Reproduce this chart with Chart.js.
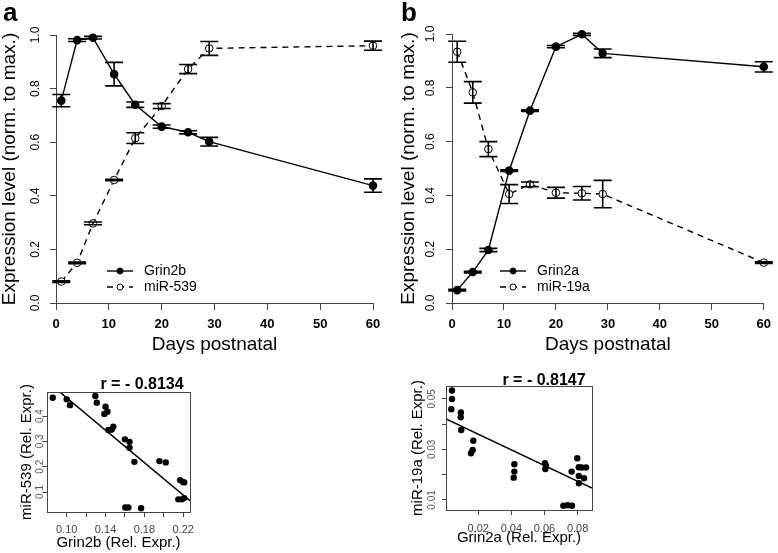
<!DOCTYPE html>
<html>
<head>
<meta charset="utf-8">
<script src="https://cdn.jsdelivr.net/npm/chart.js@4.4.0/dist/chart.umd.min.js"></script>
<style>
  body { margin: 0; background: #fff; }
  #wrap { position: relative; width: 778px; height: 553px; background: #fff; }
  #wrap canvas { position: absolute; left: 0; top: 0; }
</style>
</head>
<body>
<div id="wrap">
  <canvas id="lineA" width="778" height="553"></canvas>
  <canvas id="lineB" width="778" height="553"></canvas>
  <canvas id="corrA" width="778" height="553"></canvas>
  <canvas id="corrB" width="778" height="553"></canvas>
</div>
<script>
// sampling days (postnatal)
const days = [1, 4, 7, 11, 15, 20, 25, 29, 60];
const dayTicks = [0, 10, 20, 30, 40, 50, 60];
const levelTicks = [0, 0.2, 0.4, 0.6, 0.8, 1.0];
const levelLabels = ['0.0', '0.2', '0.4', '0.6', '0.8', '1.0'];

// panel a - Grin2b / miR-539, normalised to max
const grin2b = [0.755, 0.981, 0.990, 0.854, 0.740, 0.658, 0.637, 0.602, 0.438];
const grin2bErr = [0.023, 0.005, 0.005, 0.044, 0.010, 0.006, 0.006, 0.016, 0.025];
const mir539 = [0.080, 0.150, 0.297, 0.459, 0.615, 0.735, 0.873, 0.950, 0.960];
const mir539Err = [0.003, 0.003, 0.005, 0.003, 0.020, 0.009, 0.017, 0.026, 0.017];

// panel b - Grin2a / miR-19a
const grin2a = [0.048, 0.115, 0.197, 0.492, 0.715, 0.953, 0.999, 0.928, 0.878];
const grin2aErr = [0.003, 0.003, 0.006, 0.003, 0.003, 0.004, 0.004, 0.016, 0.019];
const mir19a = [0.934, 0.783, 0.572, 0.405, 0.441, 0.410, 0.408, 0.405, 0.150];
const mir19aErr = [0.039, 0.040, 0.028, 0.035, 0.009, 0.020, 0.025, 0.051, 0.003];

// correlation a (relative expression)
const grin2bRel = [0.0856, 0.1000, 0.1034, 0.1295, 0.1310, 0.1400, 0.1420, 0.1388, 0.1430, 0.1464, 0.1480, 0.1600, 0.1647,
  0.1647, 0.1697, 0.1955, 0.2020, 0.1604, 0.1635, 0.1766, 0.2150, 0.2186, 0.2210, 0.2168, 0.2196, 0.2210];
const mir539Rel = [0.472, 0.466, 0.443, 0.479, 0.453, 0.437, 0.417, 0.408, 0.345, 0.347, 0.358, 0.308, 0.298,
  0.275, 0.219, 0.222, 0.217, 0.039, 0.039, 0.036, 0.071, 0.071, 0.076, 0.147, 0.140, 0.138];
const fitA = [0.792, -3.2]; // intercept, slope
const corrAXTicks = [0.10, 0.12, 0.14, 0.16, 0.18, 0.20, 0.22];
const corrAXLabels = ['0.10', '', '0.14', '', '0.18', '', '0.22'];
const corrAYTicks = [0.1, 0.2, 0.3, 0.4];
const corrAYLabels = ['0.1', '0.2', '0.3', '0.4'];

// correlation b
const grin2aRel = [0.0041, 0.0041, 0.0037, 0.0095, 0.0094, 0.0097, 0.0170, 0.0166, 0.0156, 0.0418, 0.0418, 0.0414, 0.0603,
  0.0609, 0.0605, 0.0798, 0.0764, 0.0807, 0.0825, 0.0851, 0.0807, 0.0808, 0.0839, 0.0714, 0.0740, 0.0766];
const mir19aRel = [0.0533, 0.0500, 0.0459, 0.0446, 0.0427, 0.0377, 0.0334, 0.0298, 0.0285, 0.0241, 0.0212, 0.0188, 0.0245,
  0.0235, 0.0222, 0.0265, 0.0212, 0.0229, 0.0228, 0.0228, 0.0195, 0.0166, 0.0186, 0.0077, 0.0079, 0.0077];
const fitB = [0.0422, -0.31];
const corrBXTicks = [0.02, 0.04, 0.06, 0.08];
const corrBXLabels = ['0.02', '0.04', '0.06', '0.08'];
const corrBYTicks = [0.01, 0.02, 0.03, 0.04, 0.05];
const corrBYLabels = ['0.01', '', '0.03', '', '0.05'];

const FONT = '"Liberation Sans", Arial, sans-serif';
const AXIS = '#444';
Chart.defaults.font.family = FONT;
Chart.defaults.color = '#000';

// vertical error bars with caps, values kept on the dataset
const errorBars = {
  id: 'errorBars',
  afterDatasetsDraw(chart) {
    const { ctx, scales: { x, y } } = chart;
    ctx.save();
    ctx.strokeStyle = '#000';
    ctx.lineWidth = 1.6;
    chart.data.datasets.forEach(ds => {
      if (!ds.errorBars) return;
      ds.data.forEach((p, i) => {
        const px = x.getPixelForValue(p.x);
        const top = y.getPixelForValue(p.y + ds.errorBars[i]);
        const bot = y.getPixelForValue(p.y - ds.errorBars[i]);
        ctx.beginPath();
        ctx.moveTo(px, top); ctx.lineTo(px, bot);
        ctx.moveTo(px - 9, top); ctx.lineTo(px + 9, top);
        ctx.moveTo(px - 9, bot); ctx.lineTo(px + 9, bot);
        ctx.stroke();
      });
    });
    ctx.restore();
  }
};

// R style y tick labels (turned 90 degrees)
const sideTicks = {
  id: 'sideTicks',
  afterDraw(chart, args, opts) {
    const { ctx, scales: { y } } = chart;
    ctx.save();
    ctx.font = opts.size + 'px ' + FONT;
    ctx.fillStyle = opts.color;
    ctx.textAlign = 'center';
    ctx.textBaseline = 'middle';
    y.ticks.forEach(t => {
      if (!t.label) return;
      ctx.save();
      ctx.translate(opts.x, y.getPixelForValue(t.value));
      ctx.rotate(-Math.PI / 2);
      ctx.fillText(t.label, 0, 0);
      ctx.restore();
    });
    ctx.restore();
  }
};

// small legend without frame
const sideLegend = {
  id: 'sideLegend',
  afterDraw(chart, args, opts) {
    if (!opts.x) return;
    const ctx = chart.ctx;
    chart.data.datasets.forEach((ds, i) => {
      const y = opts.y + i * opts.gap;
      ctx.save();
      ctx.strokeStyle = '#000';
      ctx.lineWidth = 1.4;
      ctx.setLineDash(ds.borderDash || []);
      ctx.beginPath();
      ctx.moveTo(opts.x, y);
      ctx.lineTo(opts.x + 26, y);
      ctx.stroke();
      ctx.setLineDash([]);
      ctx.beginPath();
      ctx.arc(opts.x + 13, y, 3, 0, Math.PI * 2);
      ctx.fillStyle = ds.pointBackgroundColor;
      ctx.fill();
      ctx.lineWidth = 1;
      ctx.stroke();
      ctx.fillStyle = '#000';
      ctx.font = '14px ' + FONT;
      ctx.textBaseline = 'middle';
      ctx.fillText(ds.label, opts.x + 37, y);
      ctx.restore();
    });
  }
};

// panel letters, correlation titles, closed box
const captions = {
  id: 'captions',
  afterDraw(chart, args, opts) {
    const ctx = chart.ctx;
    ctx.save();
    if (opts.text) {
      ctx.font = opts.font + ' ' + FONT;
      ctx.fillStyle = '#000';
      ctx.textAlign = opts.align;
      ctx.textBaseline = 'alphabetic';
      ctx.fillText(opts.text, opts.tx, opts.ty);
    }
    if (opts.box) {
      const a = chart.chartArea;
      ctx.strokeStyle = AXIS;
      ctx.lineWidth = 1;
      ctx.strokeRect(Math.round(a.left) + 0.5, Math.round(a.top) + 0.5,
        Math.round(a.right - a.left), Math.round(a.bottom - a.top));
    }
    ctx.restore();
  }
};

function fixedTicks(values) {
  return s => { s.ticks = values.map(v => ({ value: v })); };
}

function timeCourse(id, cfg) {
  const pts = vals => days.map((d, i) => ({ x: d, y: vals[i] }));
  return new Chart(document.getElementById(id), {
    type: 'line',
    data: {
      datasets: [{
        label: cfg.names[0],
        data: pts(cfg.gene),
        errorBars: cfg.geneErr,
        borderColor: '#000',
        borderWidth: 1.4,
        pointRadius: 3.6,
        pointBackgroundColor: '#000',
        pointBorderColor: '#000',
        clip: false
      }, {
        label: cfg.names[1],
        data: pts(cfg.mir),
        errorBars: cfg.mirErr,
        borderColor: '#000',
        borderWidth: 1.4,
        borderDash: [6, 5],
        pointRadius: 3.8,
        pointBackgroundColor: '#fff',
        pointBorderColor: '#000',
        pointBorderWidth: 1,
        clip: false
      }]
    },
    options: {
      responsive: false,
      animation: false,
      layout: { padding: cfg.pad },
      plugins: {
        legend: { display: false },
        tooltip: { enabled: false },
        sideTicks: { x: cfg.tickX, size: 12, color: '#000' },
        sideLegend: { x: cfg.legendX, y: 271, gap: 16 },
        captions: { text: cfg.letter, tx: cfg.letterX, ty: 21, font: 'bold 26px', align: 'left' }
      },
      scales: {
        x: {
          type: 'linear', min: 0, max: 60,
          afterBuildTicks: fixedTicks(dayTicks),
          afterFit: s => { s.height = 60; },
          grid: { drawOnChartArea: false, tickLength: 7, color: AXIS },
          border: { color: AXIS },
          ticks: { font: { size: 13, weight: 'bold' }, padding: 7, autoSkip: false, maxRotation: 0 },
          title: { display: true, text: 'Days postnatal', font: { size: 19, lineHeight: 1 }, padding: { top: 0, bottom: 8.5 } }
        },
        y: {
          min: 0, max: 1,
          afterBuildTicks: fixedTicks(levelTicks),
          afterFit: s => { s.width = cfg.yWidth; },
          grid: { drawOnChartArea: false, tickLength: 6, color: AXIS },
          border: { color: AXIS },
          ticks: { display: false, callback: (v, i) => levelLabels[i] },
          title: { display: true, text: 'Expression level (norm. to max.)', font: { size: 19, lineHeight: 1 }, padding: { top: cfg.yTitlePad } }
        }
      }
    },
    plugins: [errorBars, sideTicks, sideLegend, captions]
  });
}

function corrPlot(id, cfg) {
  return new Chart(document.getElementById(id), {
    type: 'scatter',
    data: {
      datasets: [{
        data: cfg.xs.map((v, i) => ({ x: v, y: cfg.ys[i] })),
        pointRadius: 3.2,
        pointBackgroundColor: '#000',
        pointBorderColor: '#000',
        pointBorderWidth: 0
      }, {
        type: 'line',
        data: [cfg.xMin, cfg.xMax].map(x => ({ x: x, y: cfg.fit[0] + cfg.fit[1] * x })),
        borderColor: '#000',
        borderWidth: 1.5,
        pointRadius: 0,
        showLine: true
      }]
    },
    options: {
      responsive: false,
      animation: false,
      layout: { padding: cfg.pad },
      plugins: {
        legend: { display: false },
        tooltip: { enabled: false },
        sideTicks: { x: cfg.tickX, size: 10, color: '#555' },
        captions: { text: cfg.title, tx: cfg.titleX, ty: cfg.titleY, font: 'bold 16px', align: 'center', box: true }
      },
      scales: {
        x: {
          type: 'linear', min: cfg.xMin, max: cfg.xMax,
          afterBuildTicks: fixedTicks(cfg.xTicks),
          afterFit: s => { s.height = cfg.xHeight; },
          grid: { drawOnChartArea: false, tickLength: 5, color: AXIS },
          border: { color: AXIS },
          ticks: { font: { size: 11 }, color: '#444', padding: cfg.xTickPad, autoSkip: false, maxRotation: 0,
            callback: (v, i) => cfg.xLabels[i] },
          title: { display: true, text: cfg.xTitle, font: { size: 15, lineHeight: 1 }, padding: { top: 0, bottom: cfg.xTitlePad } }
        },
        y: {
          min: cfg.yMin, max: cfg.yMax,
          afterBuildTicks: fixedTicks(cfg.yTicks),
          afterFit: s => { s.width = cfg.yWidth; },
          grid: { drawOnChartArea: false, tickLength: 4, color: AXIS },
          border: { color: AXIS },
          ticks: { display: false, callback: (v, i) => cfg.yLabels[i] },
          title: { display: true, text: cfg.yTitle, font: { size: 15, lineHeight: 1 }, padding: { top: cfg.yTitlePad } }
        }
      }
    },
    plugins: [sideTicks, captions]
  });
}

timeCourse('lineA', {
  names: ['Grin2b', 'miR-539'], gene: grin2b, geneErr: grin2bErr, mir: mir539, mirErr: mir539Err,
  pad: { left: 0, right: 405, top: 35, bottom: 190 }, yWidth: 56, yTitlePad: 0.5,
  tickX: 36, legendX: 107, letter: 'a', letterX: 3
});

timeCourse('lineB', {
  names: ['Grin2a', 'miR-19a'], gene: grin2a, geneErr: grin2aErr, mir: mir19a, mirErr: mir19aErr,
  pad: { left: 390, right: 10, top: 34, bottom: 190 }, yWidth: 62, yTitlePad: 9.5,
  tickX: 431, legendX: 500, letter: 'b', letterX: 401
});

corrPlot('corrA', {
  xs: grin2bRel, ys: mir539Rel, fit: fitA,
  xMin: 0.0797, xMax: 0.227, yMin: 0.021, yMax: 0.495,
  xTicks: corrAXTicks, xLabels: corrAXLabels, yTicks: corrAYTicks, yLabels: corrAYLabels,
  xTitle: 'Grin2b (Rel. Expr.)', yTitle: 'miR-539 (Rel. Expr.)',
  title: 'r = - 0.8134', titleX: 142, titleY: 389,
  pad: { left: 0, right: 588, top: 392, bottom: 0 }, yWidth: 47, xHeight: 41,
  xTickPad: 6.4, xTitlePad: 2.5, yTitlePad: 19.5, tickX: 40
});

corrPlot('corrB', {
  xs: grin2aRel, ys: mir19aRel, fit: fitB,
  xMin: 0.0005, xMax: 0.0887, yMin: 0.006, yMax: 0.0551,
  xTicks: corrBXTicks, xLabels: corrBXLabels, yTicks: corrBYTicks, yLabels: corrBYLabels,
  xTitle: 'Grin2a (Rel. Expr.)', yTitle: 'miR-19a (Rel. Expr.)',
  title: 'r = - 0.8147', titleX: 544, titleY: 385,
  pad: { left: 390, right: 186, top: 386, bottom: 0 }, yWidth: 56, xHeight: 43,
  xTickPad: 7.4, xTitlePad: 7.5, yTitlePad: 20.5, tickX: 432
});
</script>
</body>
</html>
